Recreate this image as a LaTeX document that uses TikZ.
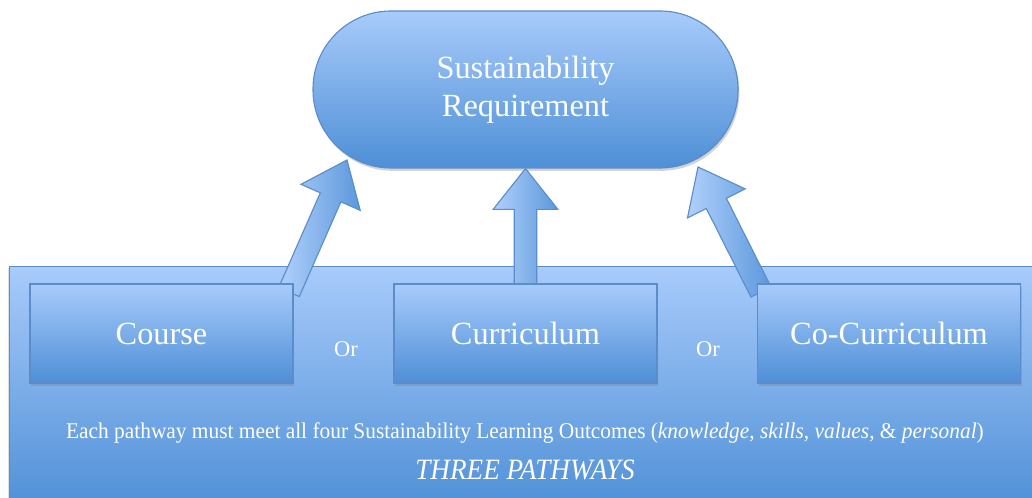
\documentclass[tikz,border=0pt]{standalone}
\usepackage{fontspec}
\setmainfont{Liberation Serif}
\usetikzlibrary{positioning,calc,shadows}
\definecolor{boxtop}{HTML}{A8CBFB}
\definecolor{boxbot}{HTML}{4E8FD6}
\definecolor{boxline}{HTML}{5A8DC9}
\newcommand\px{0.025cm}
\tikzset{
  panel/.style = {draw=boxline, line width=0.8pt, top color=boxtop, bottom color=boxbot,
                  rectangle, inner sep=0pt},
  pathbox/.style = {panel, minimum width=263*\px, minimum height=99*\px,
                    text=white, font=\fontsize{23}{26}\selectfont,
                    drop shadow={opacity=0.35, shadow xshift=1pt, shadow yshift=-2pt}},
  pillbox/.style = {panel, rounded corners=78*\px, minimum width=425*\px, minimum height=157*\px,
                    text=white, align=center, font=\fontsize{23}{27}\selectfont,
                    drop shadow={opacity=0.35, shadow xshift=1pt, shadow yshift=-2pt}},
  ortext/.style = {text=white, font=\fontsize{16}{18}\selectfont},
  arrowbody/.style = {draw=boxline, line width=0.8pt, left color=boxtop!90!white, right color=boxbot!85!boxtop},
}
% block arrow from #1 (foot) to #2 (tip)
\newcommand\blockarrow[2]{%
  \coordinate (hb) at ($(#2)!29pt!(#1)$);
  \path[arrowbody] ($(#1)!8pt!90:(#2)$) -- ($(hb)!8pt!90:(#2)$) -- ($(hb)!23pt!90:(#2)$)
     -- (#2) -- ($(hb)!23pt!-90:(#2)$) -- ($(hb)!8pt!-90:(#2)$) -- ($(#1)!8pt!-90:(#2)$) -- cycle;
}

\begin{document}
\begin{tikzpicture}[x=0.025cm, y=-0.025cm]
  \useasboundingbox (0,0) rectangle (1032,498);
  \clip (0,0) rectangle (1032,498);

  % bottom panel
  \node[panel, anchor=north west, minimum width=1045*\px, minimum height=245*\px,
        drop shadow={opacity=0.25, shadow xshift=-1pt, shadow yshift=-1pt}] (paths) at (9,266) {};

  % requirement
  \node[pillbox] (req) at (525.5,89.5) {Sustainability\\Requirement};

  % feet and tips of the arrows
  \coordinate (coursefoot) at (289,292);
  \coordinate (coursetip) at (347,160);
  \coordinate (cocurfoot) at (761,292);
  \coordinate (cocurtip) at (698,167);

  \blockarrow{coursefoot}{coursetip}
  \blockarrow{cocurfoot}{cocurtip}
  \coordinate (curfoot) at (525.5,290);
  \blockarrow{curfoot}{req.south}

  % the three pathways
  \node[pathbox] (course) at (161.5,333.5) {Course};
  \node[pathbox] (curric) at (525.5,333.5) {Curriculum};
  \node[pathbox] (cocurric) at (889,333.5) {Co-Curriculum};

  \node[ortext] (or1) at (346,349) {Or};
  \node[ortext] (or2) at (708,349) {Or};

  \node[text=white, font=\fontsize{16}{18}\selectfont] (slo) at (525,433)
    {\scalebox{0.95}[1]{Each pathway must meet all four Sustainability Learning Outcomes (\textit{knowledge}, \textit{skills}, \textit{values}, \& \textit{personal})}};
  \node[text=white, font=\fontsize{21}{24}\selectfont\itshape] (three) at (525,470)
    {\scalebox{0.92}[1]{THREE PATHWAYS}};
\end{tikzpicture}
\end{document}
